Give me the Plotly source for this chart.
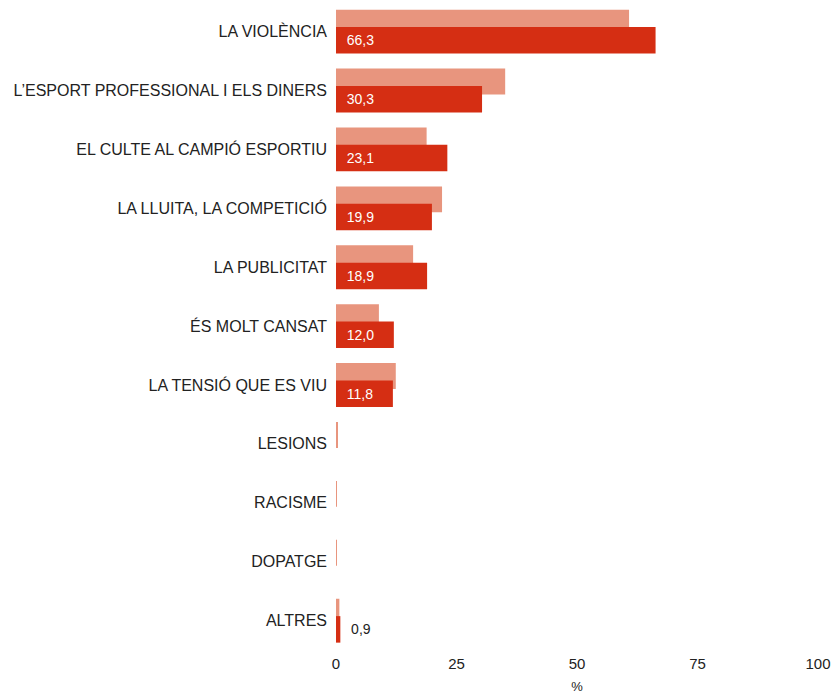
import plotly.graph_objects as go

categories = ["LA VIOLÈNCIA", "L’ESPORT PROFESSIONAL I ELS DINERS", "EL CULTE AL CAMPIÓ ESPORTIU",
              "LA LLUITA, LA COMPETICIÓ", "LA PUBLICITAT", "ÉS MOLT CANSAT", "LA TENSIÓ QUE ES VIU",
              "LESIONS", "RACISME", "DOPATGE", "ALTRES"]
light_values = [60.8, 35.1, 18.8, 22.0, 16.0, 8.9, 12.4, 0.3, 0.2, 0.2, 0.7]
dark_values = [66.3, 30.3, 23.1, 19.9, 18.9, 12.0, 11.8, 0.0, 0.0, 0.0, 0.9]
dark_labels = ["66,3", "30,3", "23,1", "19,9", "18,9", "12,0", "11,8", "", "", "", "0,9"]
x_ticks = [0, 25, 50, 75, 100]

LIGHT = "#E8957E"
DARK = "#D52E13"
FONT = "Liberation Sans, Arial, sans-serif"

text_inside = ["\u00a0\u00a0" + t if v > 5 else "" for t, v in zip(dark_labels, dark_values)]
text_outside = ["\u00a0\u00a0" + t if (v <= 5 and t) else "" for t, v in zip(dark_labels, dark_values)]

fig = go.Figure()
fig.add_trace(go.Bar(
    y=categories, x=light_values, orientation="h",
    marker=dict(color=LIGHT, line=dict(width=0)),
    width=0.44, offset=-0.37, hoverinfo="x+y", showlegend=False,
))
fig.add_trace(go.Bar(
    y=categories, x=dark_values, orientation="h",
    marker=dict(color=DARK, line=dict(width=0)),
    width=0.45, offset=-0.075,
    text=[a if a else b for a, b in zip(text_inside, text_outside)],
    textposition=["inside" if v > 5 else "outside" for v in dark_values],
    insidetextanchor="start",
    textfont=dict(family=FONT, size=14),
    insidetextfont=dict(color="white", family=FONT, size=14),
    outsidetextfont=dict(color="#222222", family=FONT, size=14),
    cliponaxis=False, showlegend=False,
))

fig.update_layout(
    barmode="overlay",
    width=837, height=694,
    margin=dict(l=336, r=19, t=2, b=44, autoexpand=False),
    paper_bgcolor="white", plot_bgcolor="white",
    font=dict(family=FONT, size=16, color="#222222"),
    uniformtext=dict(mode=False),
)
fig.update_yaxes(
    type="category", categoryorder="array", categoryarray=categories,
    autorange="reversed", showgrid=False, zeroline=False, showline=False,
    ticks="", ticklabelstandoff=8, automargin=False,
    tickfont=dict(size=16, family=FONT, color="#222222"),
)
fig.update_xaxes(
    range=[0, 100], tickvals=x_ticks, ticktext=[str(t) for t in x_ticks],
    showgrid=False, zeroline=False, showline=False, ticks="", automargin=False,
    ticklabelstandoff=3,
    tickfont=dict(size=15, family=FONT, color="#222222"),
    title=dict(text="%", font=dict(size=13, family=FONT, color="#222222"), standoff=11),
)

fig.write_html("out.html", config={"displayModeBar": False},
               post_script="document.body.style.margin='0';document.body.style.overflow='hidden';")
